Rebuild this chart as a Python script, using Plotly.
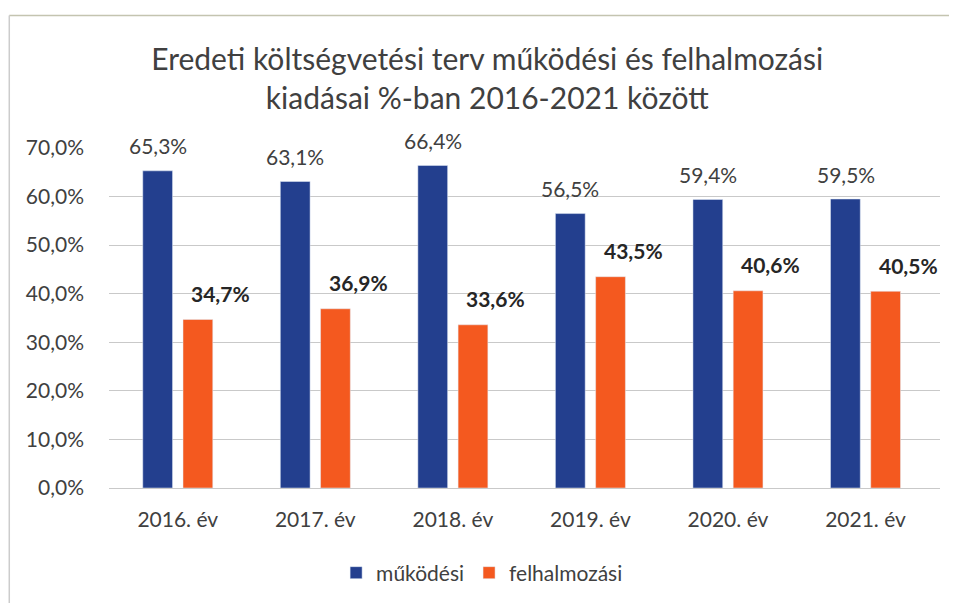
import plotly.graph_objects as go

categories = ["2016. év", "2017. év", "2018. év", "2019. év", "2020. év", "2021. év"]
mukodesi = [65.3, 63.1, 66.4, 56.5, 59.4, 59.5]
felhalmozasi = [34.7, 36.9, 33.6, 43.5, 40.6, 40.5]
series_names = ["működési", "felhalmozási"]
title_text = "Eredeti költségvetési terv működési és felhalmozási<br>kiadásai %-ban 2016-2021 között"
y_ticks = [0, 10, 20, 30, 40, 50, 60, 70]

BLUE = "#233f8e"
ORANGE = "#f4591f"
FONT = "Lato"

def fmt(v):
    return f"{v:.1f}".replace(".", ",") + "%"

fig = go.Figure()
fig.add_trace(go.Bar(x=categories, y=mukodesi, name=series_names[0], marker_color=BLUE))
fig.add_trace(go.Bar(x=categories, y=felhalmozasi, name=series_names[1], marker_color=ORANGE))

annotations = []
for c, v in zip(categories, mukodesi):
    annotations.append(dict(x=c, y=v, xref="x", yref="y", text=fmt(v), showarrow=False,
                            xshift=-20, yshift=25, yanchor="middle",
                            font=dict(family=FONT, size=21, color="#404040")))
for c, v in zip(categories, felhalmozasi):
    annotations.append(dict(x=c, y=v, xref="x", yref="y", text="<b>" + fmt(v) + "</b>", showarrow=False,
                            xshift=43, yshift=26, yanchor="middle",
                            font=dict(family=FONT, size=21, color="#262626")))

fig.update_layout(
    width=949, height=595,
    paper_bgcolor="white", plot_bgcolor="white",
    margin=dict(l=101, r=17, t=140, b=115, autoexpand=False),
    barmode="group", bargap=0.415, bargroupgap=0.26,
    title=dict(text=title_text, x=0.505, xanchor="center", y=0.896, yanchor="top",
               font=dict(family=FONT, size=30, color="#404040")),
    font=dict(family=FONT, color="#404040"),
    legend=dict(orientation="h", x=0.449, xanchor="center", y=-0.25, yanchor="middle",
                font=dict(family=FONT, size=21, color="#404040"), itemwidth=30),
    annotations=annotations,
    shapes=[
        dict(type="line", xref="paper", yref="paper", x0=-0.12, x1=1.03, y0=1.39, y1=1.39,
             line=dict(color="#c4c4b0", width=1.5)),
        dict(type="line", xref="paper", yref="paper", x0=-0.12, x1=-0.12, y0=1.39, y1=-0.35,
             line=dict(color="#cccccc", width=1.5)),
    ],
)
fig.update_yaxes(range=[0, 70], tickvals=y_ticks, ticktext=[fmt(t) for t in y_ticks],
                 showgrid=True, gridcolor="#c9c9c9", gridwidth=1, zeroline=False,
                 showline=False, ticklabelstandoff=24,
                 tickfont=dict(family=FONT, size=21, color="#404040"))
fig.update_xaxes(showline=True, linecolor="#c9c9c9", linewidth=1, ticks="",
                 ticklabelstandoff=13,
                 tickfont=dict(family=FONT, size=21, color="#404040"))

fig.write_html("out.html")
